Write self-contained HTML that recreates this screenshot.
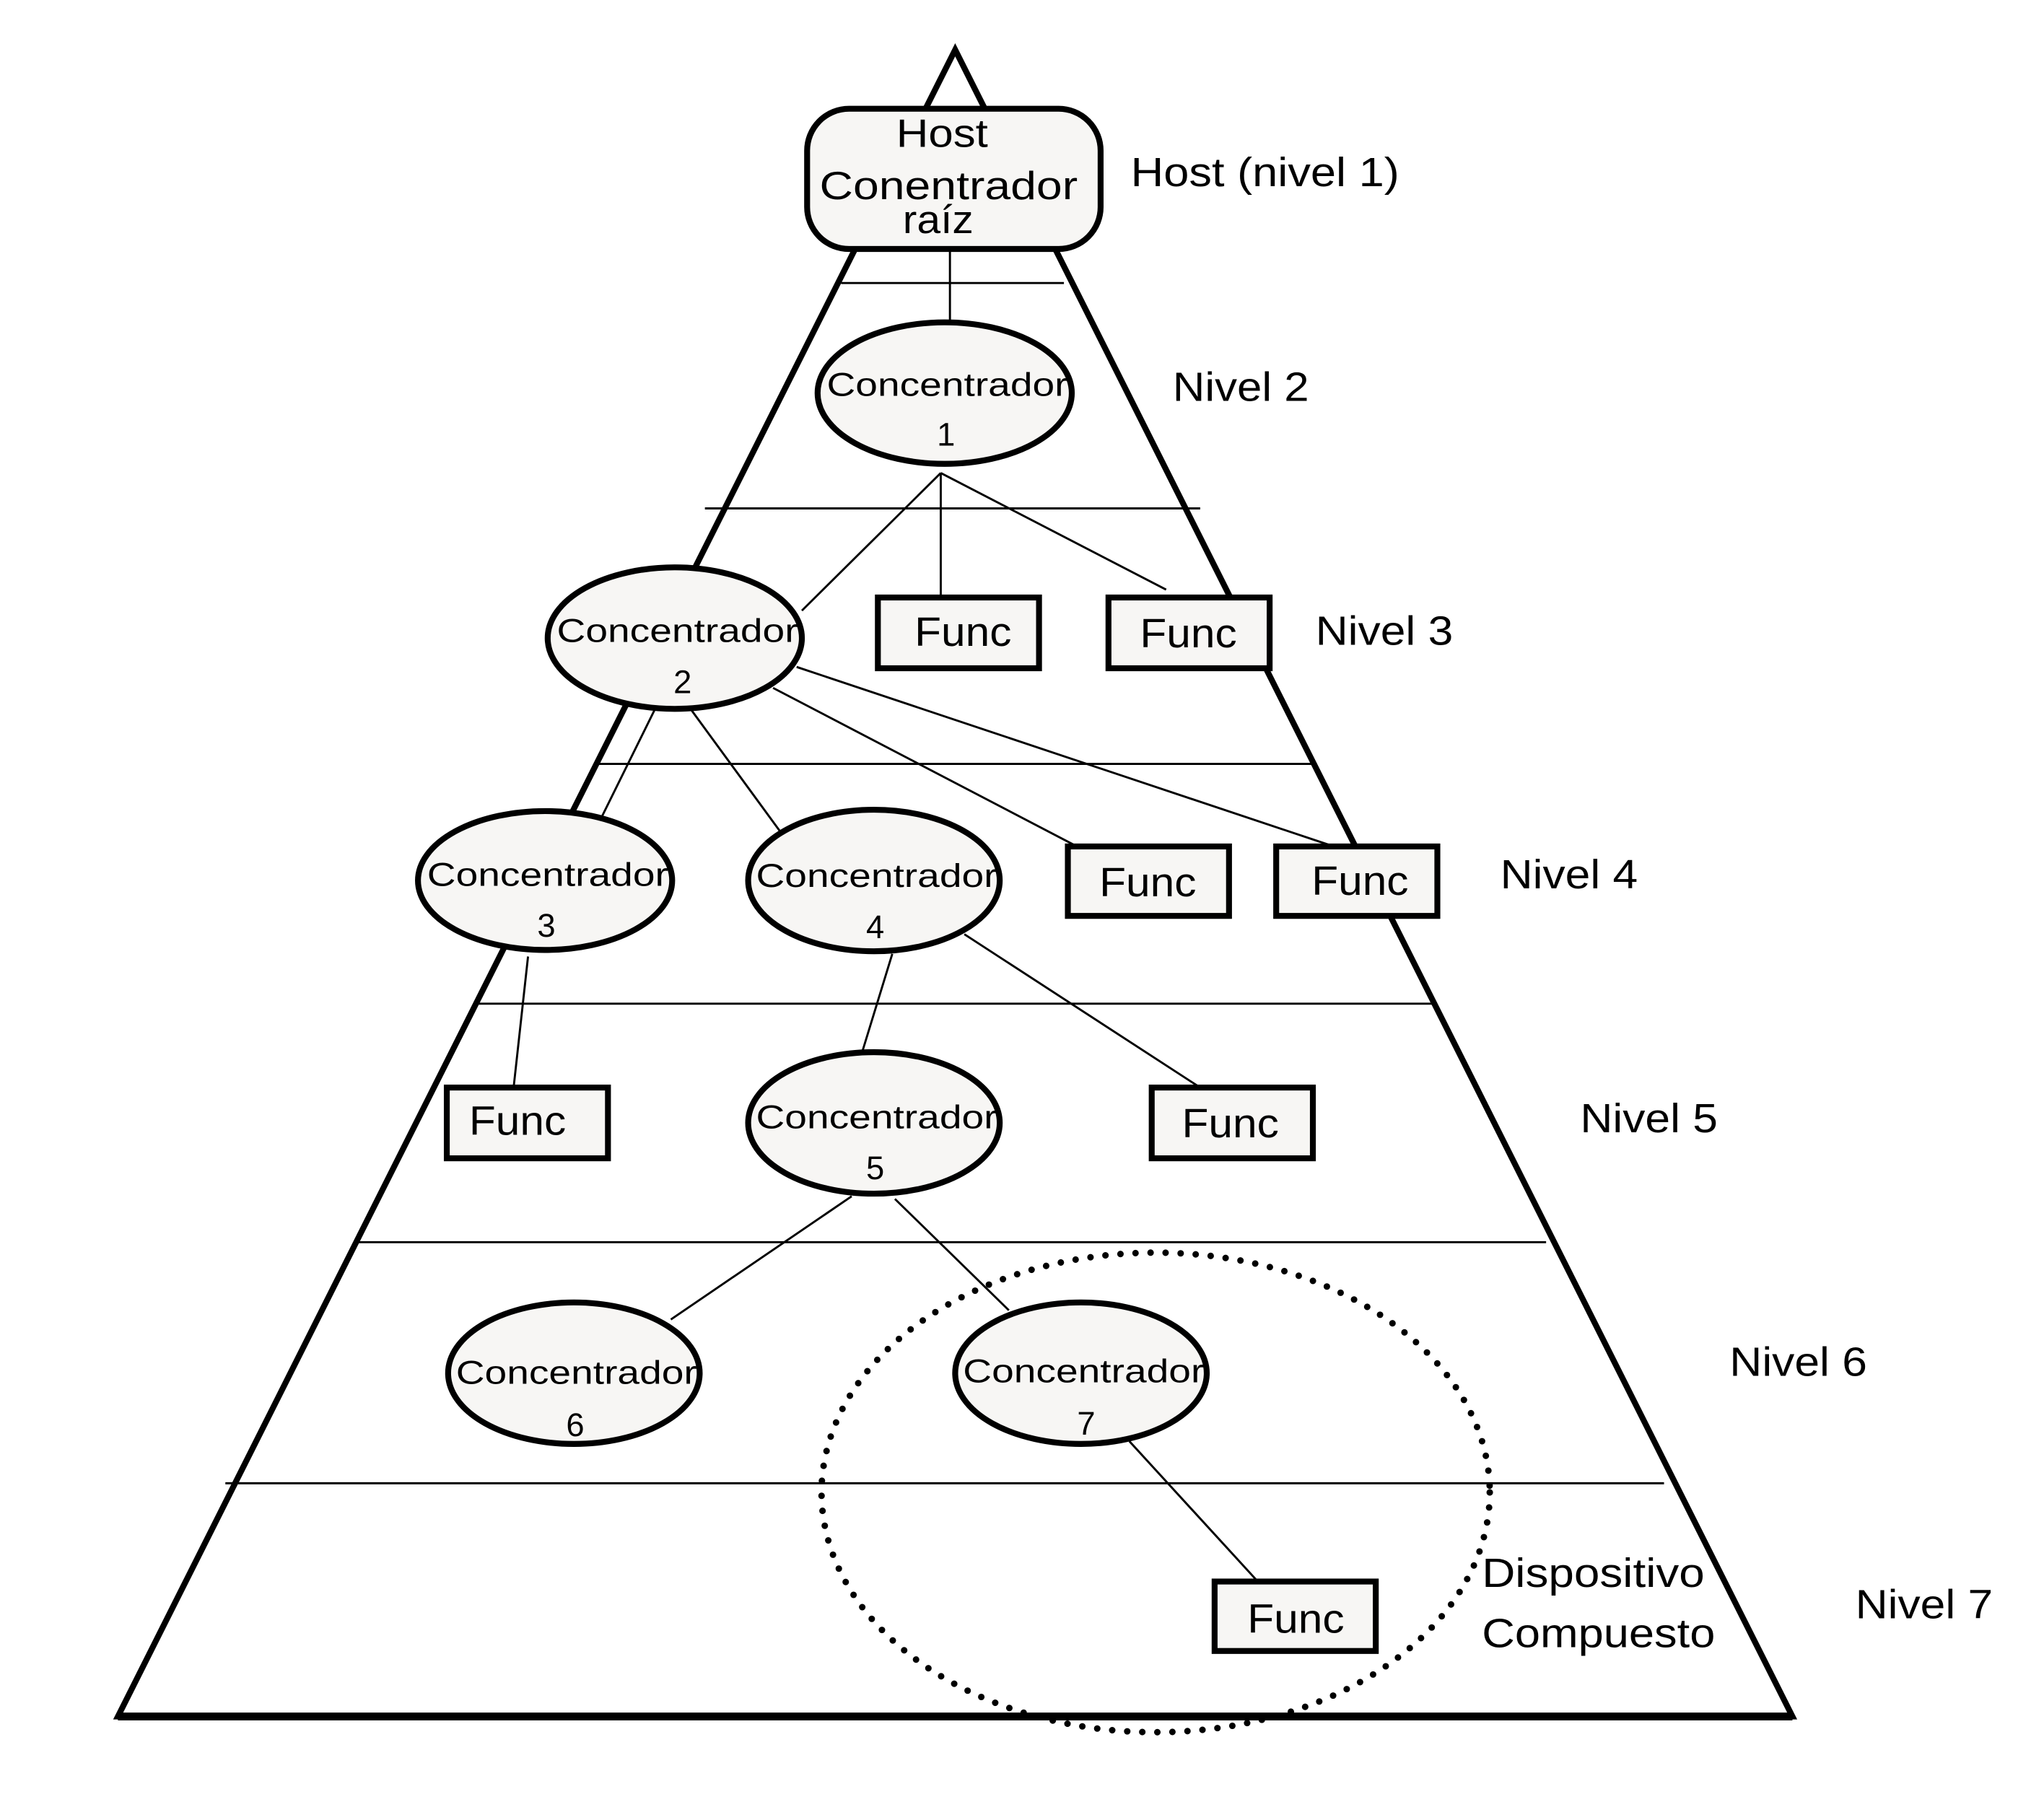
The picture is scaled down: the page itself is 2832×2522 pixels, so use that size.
<!DOCTYPE html>
<html><head><meta charset="utf-8"><style>html,body{margin:0;padding:0;background:#fff}svg{display:block}</style></head>
<body>
<svg width="2832" height="2522" viewBox="0 0 1560 1389" preserveAspectRatio="none" xmlns="http://www.w3.org/2000/svg" font-family="Liberation Sans, sans-serif">
<rect width="1560" height="1389" fill="#fff"/>
<polygon points="729,38 1368,1310 90,1310" fill="#fff" stroke="#000" stroke-width="4.5" stroke-linejoin="miter"/>
<line x1="90" y1="1310" x2="1368" y2="1310" stroke="#000" stroke-width="6"/>
<g stroke="#000" stroke-width="1.6">
<line x1="642" y1="216" x2="812" y2="216"/>
<line x1="538" y1="388" x2="916" y2="388"/>
<line x1="455" y1="583" x2="1005" y2="583"/>
<line x1="363" y1="766" x2="1095" y2="766"/>
<line x1="272" y1="948" x2="1180" y2="948"/>
<line x1="172" y1="1132" x2="1270" y2="1132"/>
<line x1="725" y1="190" x2="725" y2="245"/>
<line x1="718" y1="361" x2="612" y2="466"/>
<line x1="718" y1="361" x2="718" y2="456"/>
<line x1="718" y1="361" x2="890" y2="450"/>
<line x1="500" y1="541" x2="458" y2="626"/>
<line x1="527" y1="541" x2="595" y2="634"/>
<line x1="590" y1="525" x2="822" y2="646"/>
<line x1="608" y1="509" x2="1018" y2="646"/>
<line x1="403" y1="730" x2="392" y2="830"/>
<line x1="681" y1="728" x2="658" y2="803"/>
<line x1="736" y1="713" x2="916" y2="830"/>
<line x1="650" y1="913" x2="512" y2="1007"/>
<line x1="683" y1="915" x2="770" y2="1000"/>
<line x1="862" y1="1100" x2="960" y2="1207"/>
</g>
<rect x="616" y="83" width="224" height="107" rx="32" fill="#f7f6f4" stroke="#000" stroke-width="4.5"/>
<g font-size="30" text-anchor="middle" fill="#000">
<text x="719" y="112" textLength="70" lengthAdjust="spacingAndGlyphs">Host</text>
<text x="724" y="152" textLength="197" lengthAdjust="spacingAndGlyphs">Conentrador</text>
<text x="716" y="178" textLength="54" lengthAdjust="spacingAndGlyphs">raíz</text>
</g>
<g fill="#f7f6f4" stroke="#000" stroke-width="4.5">
<ellipse cx="721" cy="300" rx="97" ry="54"/>
<ellipse cx="515" cy="487" rx="97" ry="54"/>
<ellipse cx="416" cy="672" rx="97" ry="53"/>
<ellipse cx="667" cy="672" rx="96" ry="54"/>
<ellipse cx="667" cy="857" rx="96" ry="54"/>
<ellipse cx="438" cy="1048" rx="96" ry="54"/>
<ellipse cx="825" cy="1048" rx="96" ry="54"/>
<rect x="670" y="456" width="123" height="54"/>
<rect x="846" y="456" width="123" height="54"/>
<rect x="815" y="646" width="123" height="53"/>
<rect x="974" y="646" width="123" height="53"/>
<rect x="341" y="830" width="123" height="54"/>
<rect x="879" y="830" width="123" height="54"/>
<rect x="927" y="1207" width="123" height="53"/>
</g>
<ellipse cx="882" cy="1139" rx="255" ry="183" fill="none" stroke="#000" stroke-width="5" stroke-dasharray="0 11.5" stroke-linecap="round"/>
<g font-size="25" text-anchor="middle" fill="#000">
<text x="723" y="302" textLength="184" lengthAdjust="spacingAndGlyphs">Concentrador</text><text x="722" y="340">1</text>
<text x="517" y="490" textLength="184" lengthAdjust="spacingAndGlyphs">Concentrador</text><text x="521" y="529">2</text>
<text x="418" y="676" textLength="184" lengthAdjust="spacingAndGlyphs">Concentrador</text><text x="417" y="715">3</text>
<text x="669" y="677" textLength="184" lengthAdjust="spacingAndGlyphs">Concentrador</text><text x="668" y="716">4</text>
<text x="669" y="861" textLength="184" lengthAdjust="spacingAndGlyphs">Concentrador</text><text x="668" y="900">5</text>
<text x="440" y="1056" textLength="184" lengthAdjust="spacingAndGlyphs">Concentrador</text><text x="439" y="1096">6</text>
<text x="827" y="1055" textLength="184" lengthAdjust="spacingAndGlyphs">Concentrador</text><text x="829" y="1095">7</text>
</g>
<g font-size="31" text-anchor="middle" fill="#000">
<text x="735" y="493" textLength="74" lengthAdjust="spacingAndGlyphs">Func</text>
<text x="907" y="494" textLength="74" lengthAdjust="spacingAndGlyphs">Func</text>
<text x="876" y="684" textLength="74" lengthAdjust="spacingAndGlyphs">Func</text>
<text x="1038" y="683" textLength="74" lengthAdjust="spacingAndGlyphs">Func</text>
<text x="395" y="866" textLength="74" lengthAdjust="spacingAndGlyphs">Func</text>
<text x="939" y="868" textLength="74" lengthAdjust="spacingAndGlyphs">Func</text>
<text x="989" y="1246" textLength="74" lengthAdjust="spacingAndGlyphs">Func</text>
</g>
<g font-size="31" fill="#000">
<text x="863" y="142" textLength="205" lengthAdjust="spacingAndGlyphs">Host (nivel 1)</text>
<text x="895" y="306" textLength="104" lengthAdjust="spacingAndGlyphs">Nivel 2</text>
<text x="1004" y="492" textLength="105" lengthAdjust="spacingAndGlyphs">Nivel 3</text>
<text x="1145" y="678" textLength="105" lengthAdjust="spacingAndGlyphs">Nivel 4</text>
<text x="1206" y="864" textLength="105" lengthAdjust="spacingAndGlyphs">Nivel 5</text>
<text x="1320" y="1050" textLength="105" lengthAdjust="spacingAndGlyphs">Nivel 6</text>
<text x="1416" y="1235" textLength="105" lengthAdjust="spacingAndGlyphs">Nivel 7</text>
<text x="1131" y="1211" textLength="170" lengthAdjust="spacingAndGlyphs">Dispositivo</text>
<text x="1131" y="1257" textLength="178" lengthAdjust="spacingAndGlyphs">Compuesto</text>
</g>
</svg>
</body></html>
